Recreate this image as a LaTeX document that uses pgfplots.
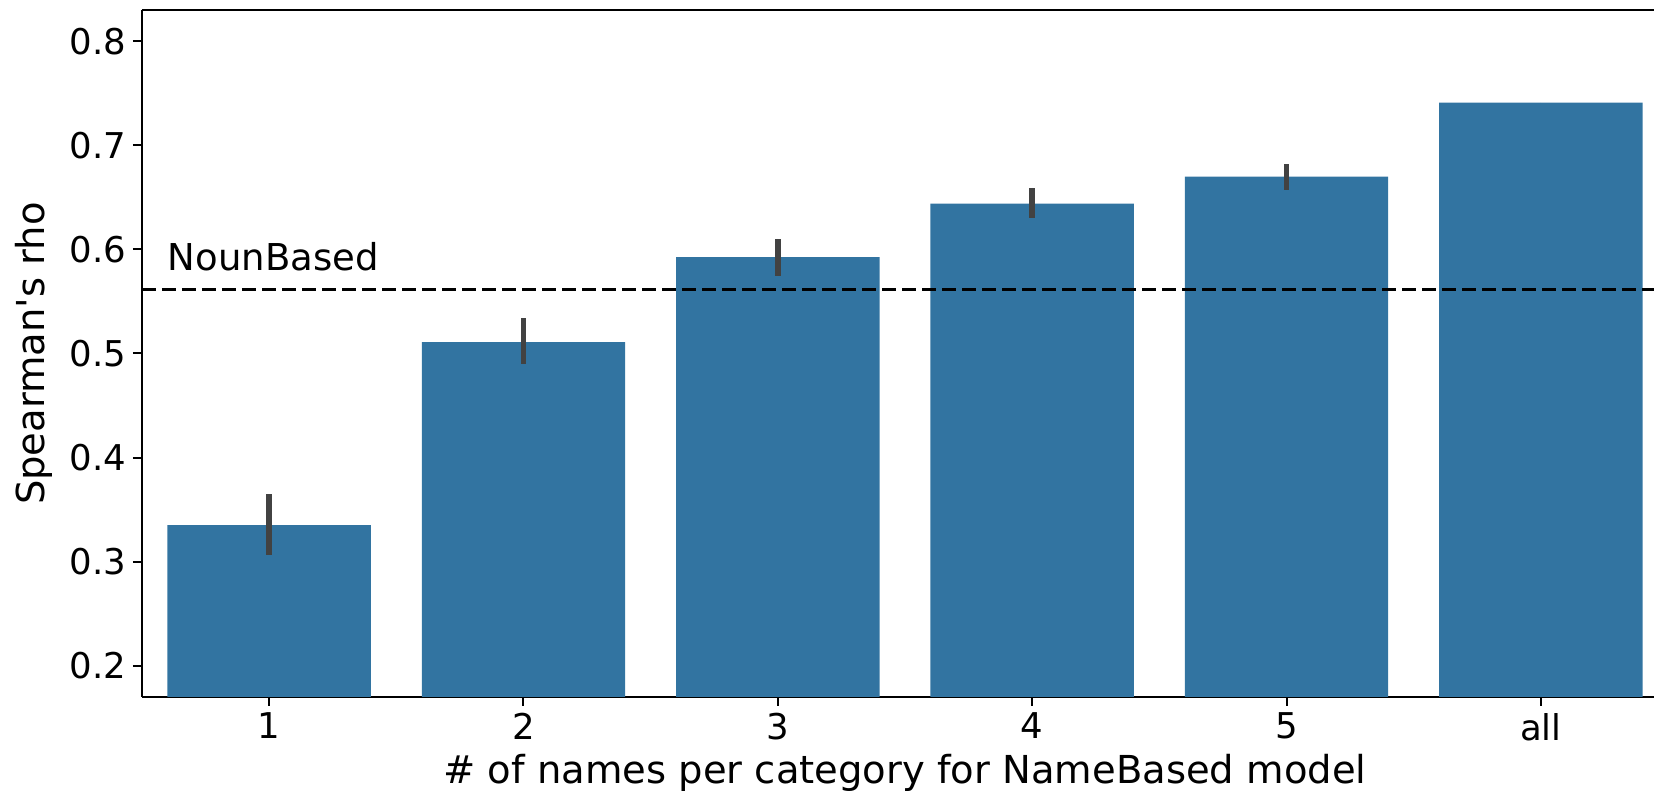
\documentclass[border=0pt]{standalone}
\usepackage{fontspec}
\setmainfont{DejaVu Sans}
\usepackage{pgfplots}
\pgfplotsset{compat=1.18}
\definecolor{barblue}{HTML}{3274A1}
\definecolor{errgrey}{HTML}{424242}
\begin{document}
\begin{tikzpicture}
\useasboundingbox (-71pt,-47pt) rectangle (756pt,348.5pt);
\begin{axis}[
  at={(0,0)}, anchor=south west,
  scale only axis, width=756pt, height=343.5pt,
  xmin=-0.5, xmax=5.445, ymin=0.17, ymax=0.83,
  axis x line=box, axis y line=left,
  x axis line style={-}, y axis line style={-},
  axis line style={line width=1pt, black},
  xtick={0,1,2,3,4,5}, xticklabels={1,2,3,4,5,all},
  ytick={0.2,0.3,0.4,0.5,0.6,0.7,0.8},
  yticklabels={0.2,0.3,0.4,0.5,0.6,0.7,0.8},
  xtick pos=lower, ytick pos=left,
  tick align=outside, major tick length=4.5pt,
  every tick/.style={black, line width=1pt},
  /pgf/number format/assume math mode=true,
  ticklabel style={font=\fontsize{17.75}{21}\selectfont},
  label style={font=\fontsize{19.25}{23}\selectfont},
  xlabel={\# of names per category for NameBased model},
  xlabel style={at={(axis description cs:0.5046,-0.1252)}, anchor=base},
  ylabel={Spearman\textquotesingle s rho},
  ylabel style={at={(axis description cs:-0.0642,0.5)}, anchor=base},
]
% mean Spearman correlation per number of names, with confidence intervals
\addplot[ybar, bar width=0.8, bar shift=0pt, fill=barblue, draw=none,
  error bars/.cd, y dir=both, y explicit, error mark=none,
  error bar style={draw=errgrey, line width=2.8pt}]
  coordinates {
    (0,0.335)  += (0,0.030) -= (0,0.029)
    (1,0.511)  += (0,0.023) -= (0,0.021)
    (2,0.5925) += (0,0.0175) -= (0,0.018)
    (3,0.644)  += (0,0.015) -= (0,0.014)
    (4,0.670)  += (0,0.012) -= (0,0.013)
    (5,0.741)  += (0,0) -= (0,0)
  };
% NounBased baseline
\addplot[black, line width=1.6pt, dash pattern=on 7pt off 3pt]
  coordinates {(-0.5,0.5615) (5.5,0.5615)};
\node[anchor=base west, inner sep=0pt, font=\fontsize{18.5}{22}\selectfont]
  at (axis cs:-0.4,0.58) {NounBased};
\end{axis}
\end{tikzpicture}
\end{document}
